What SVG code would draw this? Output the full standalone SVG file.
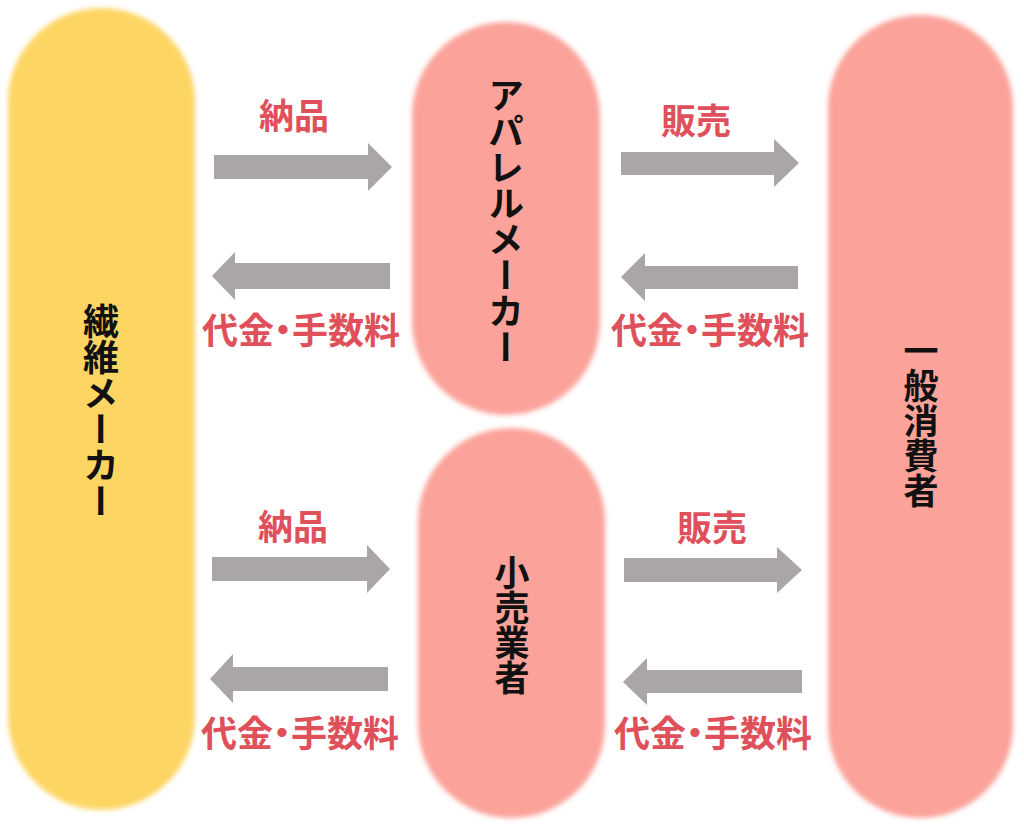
<svg xmlns="http://www.w3.org/2000/svg" width="1024" height="828" viewBox="0 0 1024 828">
  <defs>
    <filter id="soft" x="-10%" y="-10%" width="120%" height="120%">
      <feGaussianBlur stdDeviation="2.5"/>
    </filter>
  </defs>
  <style>
    .pill-y { fill: #FDD564; filter: url(#soft); }
    .pill-p { fill: #FBA29A; filter: url(#soft); }
    .vlabel { font-family: "Noto Sans CJK JP", "Noto Sans CJK SC", sans-serif; font-weight: 700; fill: #111; writing-mode: vertical-rl; text-anchor: middle; }
    .elabel { font-family: "Noto Sans CJK JP", "Noto Sans CJK SC", sans-serif; font-weight: 700; font-size: 35px; fill: #E0505A; text-anchor: middle; }
    .fee { font-size: 36px; font-feature-settings: "palt"; }
    .arrow { fill: #AAA6A6; }
  </style>
  <rect width="1024" height="828" fill="#FFFFFF"/>

  <g id="node-seni">
    <rect class="pill-y" x="8" y="8" width="187" height="802" rx="93.5" ry="93.5"/>
    <text class="vlabel" x="101" y="411" font-size="36">繊維メーカー</text>
  </g>
  <g id="node-apparel">
    <rect class="pill-p" x="412" y="22" width="188" height="393" rx="94" ry="94"/>
    <text class="vlabel" x="506" y="221" font-size="36">アパレルメーカー</text>
  </g>
  <g id="node-kouri">
    <rect class="pill-p" x="418" y="428" width="187" height="390" rx="93.5" ry="93.5"/>
    <text class="vlabel" x="512" y="625" font-size="35">小売業者</text>
  </g>
  <g id="node-consumer">
    <rect class="pill-p" x="828" y="15" width="185" height="803" rx="92.5" ry="92.5"/>
    <text class="vlabel" x="921" y="421" font-size="35">一般消費者</text>
  </g>

  <g id="connectors">
    <polygon class="arrow" points="214,155 368,155 368,143 392,167 368,191 368,179 214,179"/>
    <polygon class="arrow" points="390,263 235,263 235,252 212,276 235,300 235,289 390,289"/>
    <polygon class="arrow" points="621,152 774,152 774,139 799,163 774,187 774,175 621,175"/>
    <polygon class="arrow" points="798,266 645,266 645,253 621,277 645,301 645,289 798,289"/>
    <polygon class="arrow" points="212,557 367,557 367,545 390,569 367,593 367,581 212,581"/>
    <polygon class="arrow" points="388,667 233,667 233,654 210,679 233,703 233,691 388,691"/>
    <polygon class="arrow" points="624,558 777,558 777,547 802,570 777,593 777,582 624,582"/>
    <polygon class="arrow" points="802,670 647,670 647,658 623,682 647,705 647,693 802,693"/>
  </g>

  <g id="edge-labels">
    <text class="elabel" x="294" y="129">納品</text>
    <text class="elabel fee" x="301" y="344">代金・手数料</text>
    <text class="elabel" x="696" y="134">販売</text>
    <text class="elabel fee" x="710" y="344">代金・手数料</text>
    <text class="elabel" x="293" y="540">納品</text>
    <text class="elabel fee" x="300" y="747">代金・手数料</text>
    <text class="elabel" x="712" y="541">販売</text>
    <text class="elabel fee" x="713" y="747">代金・手数料</text>
  </g>
</svg>
